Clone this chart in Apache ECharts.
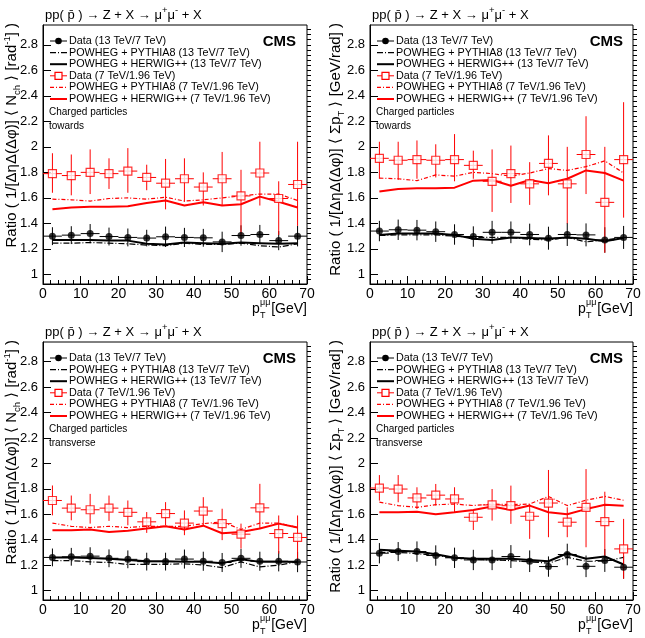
<!DOCTYPE html>
<html>
<head>
<meta charset="utf-8">
<script src="https://cdn.jsdelivr.net/npm/echarts@6/dist/echarts.min.js"></script>
<style>
html, body { margin: 0; padding: 0; background: #fff; }
#chart { width: 645px; height: 638px; }
</style>
</head>
<body>
<div id="chart"></div>
<script>
// bin centres of p_T^mumu [GeV] and the half bin width
const binCenters = [2.5, 7.5, 12.5, 17.5, 22.5, 27.5, 32.5, 37.5, 42.5, 47.5, 52.5, 57.5, 62.5, 67.5];
const binHalf = 2.5;
const yTicks = [1, 1.2, 1.4, 1.6, 1.8, 2, 2.2, 2.4, 2.6, 2.8];

// N_ch, towards
const nchTowData13   = [1.30, 1.308, 1.32, 1.297, 1.29, 1.285, 1.295, 1.29, 1.287, 1.255, 1.305, 1.313, 1.265, 1.30];
const nchTowErr13    = [0.07, 0.07, 0.075, 0.07, 0.07, 0.065, 0.08, 0.075, 0.07, 0.08, 0.08, 0.075, 0.075, 0.08];
const nchTowPythia13 = [1.245, 1.245, 1.25, 1.245, 1.24, 1.23, 1.225, 1.245, 1.235, 1.235, 1.245, 1.225, 1.215, 1.24];
const nchTowHerwig13 = [1.27, 1.27, 1.27, 1.265, 1.265, 1.24, 1.235, 1.25, 1.245, 1.24, 1.25, 1.245, 1.24, 1.245];
const nchTowData7    = [1.79, 1.775, 1.80, 1.79, 1.81, 1.76, 1.715, 1.75, 1.685, 1.75, 1.615, 1.795, 1.595, 1.705];
const nchTowLo7      = [1.64, 1.62, 1.63, 1.67, 1.64, 1.66, 1.51, 1.57, 1.54, 1.54, 1.31, 1.54, 1.31, 1.38];
const nchTowHi7      = [1.95, 1.94, 1.98, 1.91, 1.99, 1.86, 1.905, 1.91, 1.80, 1.96, 1.82, 2.04, 1.73, 2.04];
const nchTowPythia7  = [1.59, 1.585, 1.575, 1.595, 1.6, 1.59, 1.605, 1.575, 1.585, 1.6, 1.615, 1.63, 1.63, 1.58];
const nchTowHerwig7  = [1.51, 1.525, 1.53, 1.53, 1.535, 1.56, 1.58, 1.54, 1.565, 1.54, 1.55, 1.61, 1.57, 1.525];

// sum p_T, towards
const sptTowData13   = [1.34, 1.35, 1.347, 1.335, 1.313, 1.297, 1.33, 1.33, 1.313, 1.284, 1.313, 1.31, 1.27, 1.29];
const sptTowErr13    = [0.08, 0.08, 0.08, 0.08, 0.08, 0.08, 0.09, 0.085, 0.085, 0.09, 0.09, 0.09, 0.1, 0.09];
const sptTowPythia13 = [1.305, 1.31, 1.31, 1.31, 1.3, 1.29, 1.29, 1.29, 1.275, 1.27, 1.29, 1.255, 1.27, 1.29];
const sptTowHerwig13 = [1.31, 1.32, 1.32, 1.32, 1.31, 1.28, 1.27, 1.29, 1.285, 1.28, 1.29, 1.28, 1.26, 1.285];
const sptTowData7    = [1.91, 1.895, 1.90, 1.895, 1.90, 1.855, 1.73, 1.79, 1.71, 1.87, 1.71, 1.94, 1.565, 1.90];
const sptTowLo7      = [1.75, 1.74, 1.75, 1.76, 1.73, 1.75, 1.49, 1.56, 1.545, 1.62, 1.40, 1.63, 1.17, 1.445];
const sptTowHi7      = [2.04, 2.04, 2.05, 2.02, 2.10, 1.97, 1.98, 2.01, 1.88, 2.09, 2.00, 2.24, 2.00, 2.35];
const sptTowPythia7  = [1.755, 1.75, 1.735, 1.78, 1.77, 1.80, 1.79, 1.77, 1.795, 1.83, 1.815, 1.845, 1.89, 1.795];
const sptTowHerwig7  = [1.65, 1.67, 1.675, 1.675, 1.68, 1.735, 1.74, 1.695, 1.74, 1.715, 1.75, 1.815, 1.795, 1.735];

// N_ch, transverse
const nchTraData13   = [1.26, 1.265, 1.27, 1.253, 1.245, 1.227, 1.227, 1.247, 1.23, 1.22, 1.253, 1.23, 1.23, 1.224];
const nchTraErr13    = [0.07, 0.07, 0.07, 0.07, 0.07, 0.07, 0.07, 0.075, 0.075, 0.075, 0.075, 0.075, 0.08, 0.08];
const nchTraPythia13 = [1.235, 1.235, 1.225, 1.22, 1.205, 1.205, 1.205, 1.21, 1.2, 1.18, 1.225, 1.185, 1.2, 1.225];
const nchTraHerwig13 = [1.26, 1.26, 1.255, 1.25, 1.24, 1.23, 1.23, 1.225, 1.225, 1.215, 1.245, 1.225, 1.225, 1.225];
const nchTraData7    = [1.708, 1.648, 1.635, 1.648, 1.615, 1.54, 1.605, 1.53, 1.625, 1.526, 1.443, 1.65, 1.448, 1.417];
const nchTraLo7      = [1.591, 1.552, 1.526, 1.547, 1.513, 1.453, 1.513, 1.435, 1.513, 1.396, 1.33, 1.487, 1.29, 1.24];
const nchTraHi7      = [1.826, 1.747, 1.76, 1.747, 1.708, 1.617, 1.695, 1.63, 1.734, 1.643, 1.526, 1.839, 1.59, 1.59];
const nchTraPythia7  = [1.53, 1.505, 1.495, 1.505, 1.495, 1.505, 1.505, 1.505, 1.526, 1.54, 1.48, 1.53, 1.53, 1.495];
const nchTraHerwig7  = [1.474, 1.474, 1.48, 1.46, 1.47, 1.487, 1.505, 1.48, 1.51, 1.45, 1.46, 1.487, 1.526, 1.495];

// sum p_T, transverse
const sptTraData13   = [1.293, 1.306, 1.306, 1.275, 1.257, 1.24, 1.24, 1.267, 1.23, 1.188, 1.283, 1.19, 1.236, 1.183];
const sptTraErr13    = [0.08, 0.075, 0.08, 0.08, 0.08, 0.08, 0.08, 0.09, 0.085, 0.08, 0.085, 0.085, 0.09, 0.09];
const sptTraPythia13 = [1.3, 1.3, 1.29, 1.275, 1.255, 1.245, 1.24, 1.235, 1.225, 1.215, 1.26, 1.23, 1.23, 1.26];
const sptTraHerwig13 = [1.32, 1.313, 1.306, 1.285, 1.257, 1.25, 1.25, 1.25, 1.24, 1.23, 1.293, 1.25, 1.267, 1.204];
const sptTraData7    = [1.806, 1.798, 1.728, 1.75, 1.72, 1.576, 1.673, 1.667, 1.584, 1.688, 1.537, 1.654, 1.542, 1.327];
const sptTraLo7      = [1.707, 1.694, 1.641, 1.668, 1.615, 1.476, 1.55, 1.524, 1.406, 1.419, 1.419, 1.34, 1.275, 1.092];
const sptTraHi7      = [1.908, 1.908, 1.812, 1.838, 1.812, 1.628, 1.798, 1.825, 1.68, 1.948, 1.654, 1.955, 1.777, 1.563];
const sptTraPythia7  = [1.695, 1.668, 1.654, 1.675, 1.68, 1.668, 1.68, 1.675, 1.68, 1.74, 1.668, 1.71, 1.74, 1.71];
const sptTraHerwig7  = [1.615, 1.615, 1.62, 1.60, 1.615, 1.633, 1.66, 1.633, 1.668, 1.615, 1.60, 1.64, 1.675, 1.667];

const legendNames = [
  'Data (13 TeV/7 TeV)',
  'POWHEG + PYTHIA8 (13 TeV/7 TeV)',
  'POWHEG + HERWIG++ (13 TeV/7 TeV)',
  'Data (7 TeV/1.96 TeV)',
  'POWHEG + PYTHIA8 (7 TeV/1.96 TeV)',
  'POWHEG + HERWIG++ (7 TeV/1.96 TeV)'
];

const FONT = '"Liberation Sans", Arial, Helvetica, sans-serif';
const RED = '#ff0000';
const DASH13 = [6, 2, 1, 2];
const DASH7 = [4, 2, 1, 2];

const panels = [
  { left: 43, top: 25, width: 264, height: 259, region: 'towards', nch: true, ytx: 12,
    d13: nchTowData13, e13: nchTowErr13, p13: nchTowPythia13, h13: nchTowHerwig13,
    d7: nchTowData7, lo7: nchTowLo7, hi7: nchTowHi7, p7: nchTowPythia7, h7: nchTowHerwig7 },
  { left: 370, top: 25, width: 263, height: 259, region: 'towards', nch: false, ytx: 336,
    d13: sptTowData13, e13: sptTowErr13, p13: sptTowPythia13, h13: sptTowHerwig13,
    d7: sptTowData7, lo7: sptTowLo7, hi7: sptTowHi7, p7: sptTowPythia7, h7: sptTowHerwig7 },
  { left: 43, top: 342, width: 264, height: 258, region: 'transverse', nch: true, ytx: 12,
    d13: nchTraData13, e13: nchTraErr13, p13: nchTraPythia13, h13: nchTraHerwig13,
    d7: nchTraData7, lo7: nchTraLo7, hi7: nchTraHi7, p7: nchTraPythia7, h7: nchTraHerwig7 },
  { left: 370, top: 342, width: 263, height: 258, region: 'transverse', nch: false, ytx: 336,
    d13: sptTraData13, e13: sptTraErr13, p13: sptTraPythia13, h13: sptTraHerwig13,
    d7: sptTraData7, lo7: sptTraLo7, hi7: sptTraHi7, p7: sptTraPythia7, h7: sptTraHerwig7 }
];

const Y_MIN = 0.925, Y_MAX = 2.955;
const minorY = [];
for (let v = 0.96; v < Y_MAX; v += 0.04) minorY.push(Math.round(v * 100) / 100);

function pairs(vals) {
  return binCenters.map((x, k) => [x, vals[k]]);
}

function errorBars(color) {
  return function (params, api) {
    const x = api.value(0), y = api.value(1);
    const lo = api.coord([x, api.value(2)]);
    const hi = api.coord([x, api.value(3)]);
    const l = api.coord([x - binHalf, y]);
    const r = api.coord([x + binHalf, y]);
    const st = { stroke: color, lineWidth: 1 };
    return {
      type: 'group',
      children: [
        { type: 'line', shape: { x1: lo[0], y1: lo[1], x2: hi[0], y2: hi[1] }, style: st },
        { type: 'line', shape: { x1: l[0], y1: l[1], x2: r[0], y2: r[1] }, style: st }
      ]
    };
  };
}

const rich = {
  n: { fontFamily: FONT, fontSize: 15, lineHeight: 20, color: '#000' },
  t: { fontFamily: FONT, fontSize: 13, lineHeight: 20, color: '#000' },
  sub: { fontFamily: FONT, fontSize: 9.5, lineHeight: 10, verticalAlign: 'bottom', color: '#000' },
  sup: { fontFamily: FONT, fontSize: 9.5, lineHeight: 10, verticalAlign: 'top', color: '#000' }
};

const grids = [], xAxes = [], yAxes = [], series = [], graphics = [];

panels.forEach((p, i) => {
  grids.push({ left: p.left, top: p.top, width: p.width, height: p.height,
    show: true, borderColor: '#000', borderWidth: 1, backgroundColor: '#fff' });

  xAxes.push({
    type: 'value', gridIndex: i, min: 0, max: 70, interval: 10,
    axisLine: { onZero: false, lineStyle: { color: '#000', width: 1 } },
    axisTick: { inside: true, length: 8, lineStyle: { color: '#000' } },
    minorTick: { show: true, splitNumber: 5, length: 4, lineStyle: { color: '#000' } },
    axisLabel: { fontFamily: FONT, fontSize: 14, color: '#000', margin: 3 },
    splitLine: { show: false }
  });

  yAxes.push({
    type: 'value', gridIndex: i, min: Y_MIN, max: Y_MAX, position: 'left',
    axisLine: { onZero: false, lineStyle: { color: '#000', width: 1 } },
    axisTick: { inside: true, length: 8, customValues: yTicks, lineStyle: { color: '#000' } },
    axisLabel: { customValues: yTicks, fontFamily: FONT, fontSize: 13, color: '#000', margin: 5,
      formatter: v => String(Math.round(v * 10) / 10) },
    splitLine: { show: false }
  });
  // minor ticks, moved onto the left frame edge
  yAxes.push({
    type: 'value', gridIndex: i, min: Y_MIN, max: Y_MAX, position: 'right', offset: -p.width,
    axisLine: { show: false },
    axisTick: { inside: false, length: 4, customValues: minorY, lineStyle: { color: '#000' } },
    axisLabel: { show: false },
    splitLine: { show: false }
  });

  const xa = i, ya = 2 * i;
  series.push(
    { name: legendNames[1], type: 'line', xAxisIndex: xa, yAxisIndex: ya, data: pairs(p.p13),
      symbol: 'none', lineStyle: { color: '#000', width: 1.2, type: DASH13 }, z: 2 },
    { name: legendNames[2], type: 'line', xAxisIndex: xa, yAxisIndex: ya, data: pairs(p.h13),
      symbol: 'none', lineStyle: { color: '#000', width: 2 }, z: 2 },
    { name: legendNames[4], type: 'line', xAxisIndex: xa, yAxisIndex: ya, data: pairs(p.p7),
      symbol: 'none', lineStyle: { color: RED, width: 1.2, type: DASH7 }, z: 2 },
    { name: legendNames[5], type: 'line', xAxisIndex: xa, yAxisIndex: ya, data: pairs(p.h7),
      symbol: 'none', lineStyle: { color: RED, width: 2 }, z: 2 },
    { type: 'custom', xAxisIndex: xa, yAxisIndex: ya, renderItem: errorBars('#000'),
      encode: { x: 0, y: 1 }, z: 3,
      data: binCenters.map((x, k) => [x, p.d13[k], p.d13[k] - p.e13[k], p.d13[k] + p.e13[k]]) },
    { type: 'custom', xAxisIndex: xa, yAxisIndex: ya, renderItem: errorBars(RED),
      encode: { x: 0, y: 1 }, z: 3,
      data: binCenters.map((x, k) => [x, p.d7[k], p.lo7[k], p.hi7[k]]) },
    { name: legendNames[0], type: 'scatter', xAxisIndex: xa, yAxisIndex: ya, data: pairs(p.d13),
      symbol: 'circle', symbolSize: 7, itemStyle: { color: '#000' }, z: 4 },
    { name: legendNames[3], type: 'scatter', xAxisIndex: xa, yAxisIndex: ya, data: pairs(p.d7),
      symbol: 'rect', symbolSize: 8, itemStyle: { color: '#fff', borderColor: RED, borderWidth: 1.2 }, z: 4 }
  );

  const gl = p.left, gt = p.top, gr = p.left + p.width, gb = p.top + p.height;

  // process label above the frame
  graphics.push({ type: 'text', x: gl + 2, y: gt - 10, style: {
    text: '{t|pp( p\u0304 ) \u2192 Z + X \u2192 \u03bc}{sup|+}{t|\u03bc}{sup|-}{t| + X}',
    rich: rich, verticalAlign: 'middle' } });

  graphics.push({ type: 'text', x: gl + 253, y: gt + 17, style: {
    text: 'CMS', fontFamily: FONT, fontSize: 15, fontWeight: 'bold', fill: '#000',
    align: 'right', verticalAlign: 'middle' } });

  // legend
  const lx0 = gl + 7, lx1 = gl + 24, lxm = (lx0 + lx1) / 2;
  legendNames.forEach((name, k) => {
    const ly = gt + 16 + k * 11.6;
    const red = k >= 3;
    const col = red ? RED : '#000';
    const kind = k % 3;
    const line = { type: 'line', shape: { x1: lx0, y1: ly, x2: lx1, y2: ly },
      style: { stroke: col, lineWidth: kind === 2 ? 2 : (kind === 1 ? 1.2 : 1) } };
    if (kind === 1) line.style.lineDash = red ? DASH7 : DASH13;
    graphics.push(line);
    if (kind === 0 && !red) {
      graphics.push({ type: 'circle', shape: { cx: lxm, cy: ly, r: 3.3 }, style: { fill: '#000' } });
    }
    if (kind === 0 && red) {
      graphics.push({ type: 'rect', shape: { x: lxm - 3.5, y: ly - 3.5, width: 7, height: 7 },
        style: { fill: '#fff', stroke: RED, lineWidth: 1.2 } });
    }
    graphics.push({ type: 'text', x: gl + 26, y: ly, style: {
      text: name, fontFamily: FONT, fontSize: 10.8, fill: '#000', verticalAlign: 'middle' } });
  });

  graphics.push({ type: 'text', x: gl + 6, y: gt + 87.5, style: {
    text: 'Charged particles', fontFamily: FONT, fontSize: 10, fill: '#000', verticalAlign: 'middle' } });
  graphics.push({ type: 'text', x: gl + 6, y: gt + 101, style: {
    text: p.region, fontFamily: FONT, fontSize: 10, fill: '#000', verticalAlign: 'middle' } });

  // y axis title
  const yTitle = p.nch
    ? '{n|Ratio ( 1/[\u0394\u03b7\u0394(\u0394\u03c6)] \u27e8 N}{sub|ch}{n| \u27e9 [rad}{sup|-1}{n|] )}'
    : '{n|Ratio ( 1/[\u0394\u03b7\u0394(\u0394\u03c6)] \u27e8 \u03a3p}{sub|T}{n| \u27e9 [GeV/rad] )}';
  graphics.push({ type: 'text', x: p.ytx, y: gt - 2, rotation: Math.PI / 2, style: {
    text: yTitle, rich: rich, align: 'right', verticalAlign: 'middle' } });

  // x axis title
  graphics.push({ type: 'text', x: gr - 55, y: gb + 25.5, style: {
    text: 'p', fontFamily: FONT, fontSize: 14, fill: '#000', verticalAlign: 'middle' } });
  graphics.push({ type: 'text', x: gr - 47, y: gb + 19, style: {
    text: '\u03bc\u03bc', fontFamily: FONT, fontSize: 9, fill: '#000', verticalAlign: 'middle' } });
  graphics.push({ type: 'text', x: gr - 47, y: gb + 32, style: {
    text: 'T', fontFamily: FONT, fontSize: 9, fill: '#000', verticalAlign: 'middle' } });
  graphics.push({ type: 'text', x: gr, y: gb + 25.5, style: {
    text: '[GeV]', fontFamily: FONT, fontSize: 14, fill: '#000', align: 'right', verticalAlign: 'middle' } });
});

const chart = echarts.init(document.getElementById('chart'), null, { renderer: 'canvas' });
chart.setOption({
  backgroundColor: '#fff',
  animation: false,
  grid: grids,
  xAxis: xAxes,
  yAxis: yAxes,
  series: series,
  graphic: graphics
});
</script>
</body>
</html>
